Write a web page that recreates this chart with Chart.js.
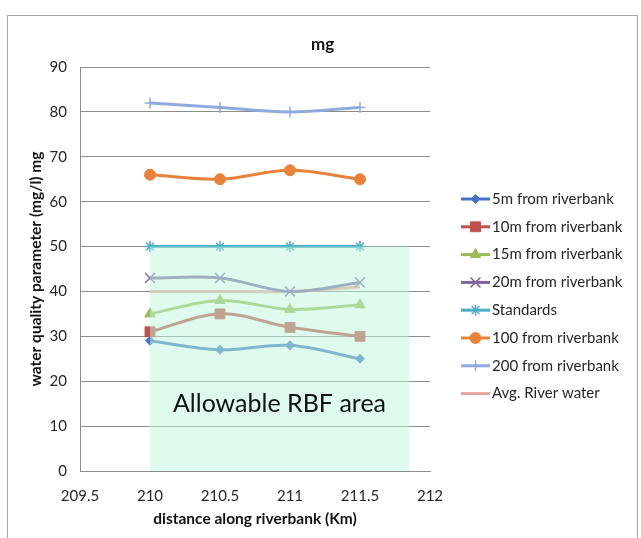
<!DOCTYPE html>
<html>
<head>
<meta charset="utf-8">
<title>mg</title>
<script src="https://cdn.jsdelivr.net/npm/chart.js@4.4.1/dist/chart.umd.min.js"></script>
<style>
  html, body { margin: 0; padding: 0; background: #ffffff; }
  #c { display: block; }
</style>
</head>
<body>
<canvas id="c" width="641" height="538"></canvas>
<script>
// Distances along the riverbank (Km) and measured Mg per well line (mg/l)
const distances   = [210, 210.5, 211, 211.5];
const well5m      = [29, 27, 28, 25];
const well10m     = [31, 35, 32, 30];
const well15m     = [35, 38, 36, 37];
const well20m     = [43, 43, 40, 42];
const standards   = [50, 50, 50, 50];
const well100m    = [66, 65, 67, 65];
const well200m    = [82, 81, 80, 81];
const avgRiver    = [40, 40, 40, 41];

const seriesNames = [
  '5m from riverbank', '10m from riverbank', '15m from riverbank', '20m from riverbank',
  'Standards', '100 from riverbank', '200 from riverbank', 'Avg. River water'
];

// Shaded zone where riverbank filtration stays below the standard
const allowableX = [210, 211.85];
const allowableY = [0, 50];
const allowableLabel = 'Allowable RBF area';
const allowableLabelLevel = 15;

const chartTitle = 'mg';
const xTitle = 'distance along riverbank (Km)';
const yTitle = 'water quality parameter (mg/l) mg';
const xTicks = { min: 209.5, max: 212, step: 0.5 };
const yTicks = { min: 0, max: 90, step: 10 };

const FONT = 'Lato, "Open Sans", sans-serif';

function pts(values) {
  return distances.map((d, i) => ({ x: d, y: values[i] }));
}

function series(label, values, color, style, radius, borderW) {
  return {
    label,
    data: pts(values),
    borderColor: color,
    backgroundColor: color,
    borderWidth: 3,
    tension: 0.35,
    pointStyle: style || false,
    pointRadius: style ? radius : 0,
    pointHoverRadius: style ? radius : 0,
    pointBackgroundColor: color,
    pointBorderColor: color,
    pointBorderWidth: borderW
  };
}

const datasets = [
  series(seriesNames[0], well5m,    '#4472C4', 'rectRot',  4.5, 1),
  series(seriesNames[1], well10m,   '#C0504D', 'rect',     7,   1),
  series(seriesNames[2], well15m,   '#9BBB59', 'triangle', 6,   1),
  series(seriesNames[3], well20m,   '#8064A2', 'crossRot', 7,   1.5),
  series(seriesNames[4], standards, '#4BACC6', 'star',     5.5, 1.5),
  series(seriesNames[5], well100m,  '#E9823A', 'circle',   5.5, 1),
  series(seriesNames[6], well200m,  '#8FAADC', 'cross',    5.5, 1.5),
  series(seriesNames[7], avgRiver,  '#E6A3A0', null,       0,   0)
];

// Outer chart frame and title
const framePlugin = {
  id: 'frame',
  beforeDraw(chart) {
    const ctx = chart.ctx;
    ctx.save();
    ctx.fillStyle = '#ffffff';
    ctx.fillRect(0, 0, chart.width, chart.height);
    ctx.strokeStyle = '#a6a6a6';
    ctx.lineWidth = 1;
    ctx.strokeRect(7.5, 15.5, 630, 600);
    ctx.restore();
  },
  afterDraw(chart) {
    const ctx = chart.ctx;
    ctx.save();
    ctx.fillStyle = '#111111';
    ctx.font = 'bold 17px ' + FONT;
    ctx.textAlign = 'center';
    ctx.textBaseline = 'middle';
    ctx.fillText(chartTitle, (7.5 + 637.5) / 2, 45);
    ctx.restore();
  }
};

// Translucent allowable-area box laid over the series, with its caption
const allowablePlugin = {
  id: 'allowable',
  afterDatasetsDraw(chart) {
    const { ctx, scales: { x, y } } = chart;
    const l = x.getPixelForValue(allowableX[0]);
    const r = x.getPixelForValue(allowableX[1]);
    const t = y.getPixelForValue(allowableY[1]);
    const b = y.getPixelForValue(allowableY[0]);
    ctx.save();
    ctx.fillStyle = 'rgba(190, 248, 220, 0.5)';
    ctx.fillRect(l, t, r - l, b - t);
    ctx.fillStyle = '#111111';
    ctx.font = '25px ' + FONT;
    ctx.textAlign = 'center';
    ctx.textBaseline = 'middle';
    ctx.fillText(allowableLabel, (l + r) / 2, y.getPixelForValue(allowableLabelLevel));
    ctx.restore();
  }
};

// Legend on the right: line sample with the series marker in its middle
const sideLegendPlugin = {
  id: 'sideLegend',
  afterDraw(chart) {
    const ctx = chart.ctx;
    const area = chart.chartArea;
    const x0 = area.right + 31;
    const len = 29;
    const y0 = area.top + 132;
    const step = 27.8;
    chart.data.datasets.forEach((ds, i) => {
      const yy = y0 + i * step;
      ctx.save();
      ctx.strokeStyle = ds.borderColor;
      ctx.lineWidth = 3;
      ctx.beginPath();
      ctx.moveTo(x0, yy);
      ctx.lineTo(x0 + len, yy);
      ctx.stroke();
      if (ds.pointStyle) {
        ctx.fillStyle = ds.pointBackgroundColor;
        ctx.strokeStyle = ds.pointBorderColor;
        ctx.lineWidth = ds.pointBorderWidth;
        Chart.helpers.drawPoint(ctx, {
          pointStyle: ds.pointStyle,
          radius: ds.pointRadius,
          rotation: 0,
          borderWidth: ds.pointBorderWidth
        }, x0 + len / 2, yy);
      }
      ctx.fillStyle = '#262626';
      ctx.font = '15px ' + FONT;
      ctx.textAlign = 'left';
      ctx.textBaseline = 'middle';
      ctx.fillText(ds.label, x0 + len + 2, yy);
      ctx.restore();
    });
  }
};

new Chart(document.getElementById('c'), {
  type: 'line',
  data: { datasets },
  options: {
    responsive: false,
    animation: false,
    events: [],
    layout: { padding: { top: 67, right: 211, left: 0, bottom: 0 } },
    plugins: {
      legend: { display: false },
      title: { display: false },
      tooltip: { enabled: false }
    },
    scales: {
      x: {
        type: 'linear',
        min: xTicks.min,
        max: xTicks.max,
        ticks: {
          stepSize: xTicks.step,
          color: '#262626',
          font: { family: FONT, size: 15 },
          padding: 16,
          callback: v => String(v)
        },
        grid: { display: false, drawTicks: false },
        border: { display: true, color: '#8c8c8c', width: 1 },
        title: {
          display: true,
          text: xTitle,
          color: '#111111',
          font: { family: FONT, size: 15.5, weight: 'bold' },
          padding: { top: 0, bottom: 10 }
        },
        afterFit(s) { s.height = 67; }
      },
      y: {
        min: yTicks.min,
        max: yTicks.max,
        ticks: {
          stepSize: yTicks.step,
          color: '#262626',
          font: { family: FONT, size: 15 },
          padding: 13
        },
        grid: { color: '#8c8c8c', lineWidth: 1, drawTicks: false },
        border: { display: true, color: '#8c8c8c', width: 1 },
        title: {
          display: true,
          text: yTitle,
          color: '#111111',
          font: { family: FONT, size: 15.5, weight: 'bold' },
          padding: { top: 27, bottom: 0 }
        },
        afterFit(s) { s.width = 80; }
      }
    }
  },
  plugins: [framePlugin, allowablePlugin, sideLegendPlugin]
});
</script>
</body>
</html>
